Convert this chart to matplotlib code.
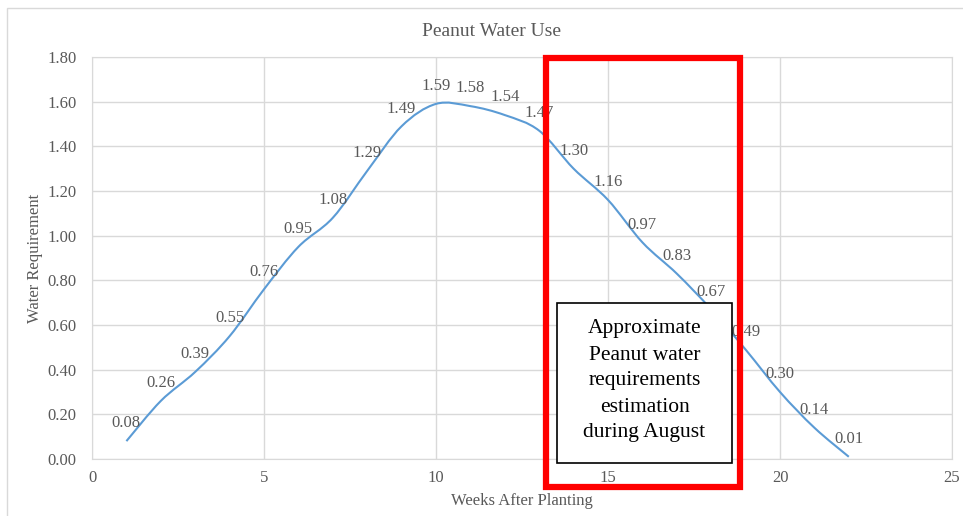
import matplotlib.pyplot as plt
import numpy as np
from matplotlib.path import Path
from matplotlib.patches import PathPatch, Rectangle

plt.rcParams['font.family'] = 'Liberation Serif'

weeks = np.arange(1, 23)
water = [0.08, 0.26, 0.39, 0.55, 0.76, 0.95, 1.08, 1.29, 1.49, 1.59, 1.58,
         1.54, 1.47, 1.30, 1.16, 0.97, 0.83, 0.67, 0.49, 0.30, 0.14, 0.01]
yticks = [0, 0.2, 0.4, 0.6, 0.8, 1.0, 1.2, 1.4, 1.6, 1.8]
xticks = [0, 5, 10, 15, 20, 25]
note = "Approximate\nPeanut water\nrequirements\nestimation\nduring August"

W, H = 963, 516
grey = '#595959'
grid = '#d9d9d9'

fig = plt.figure(figsize=(W / 100, H / 100), dpi=100)

def fx(px):
    return px / W

def fy(py):
    return 1 - py / H

# chart area border (Excel style)
fig.patches.append(Rectangle((fx(7), -0.2), 1.2, fy(8) + 0.2, transform=fig.transFigure,
                             fill=False, edgecolor=grid, lw=1.0))

ax = fig.add_axes([fx(92), fy(459), (952 - 92) / W, (459 - 57) / H])
ax.set_xlim(0, 25)
ax.set_ylim(0, 1.8)
ax.set_xticks(xticks)
ax.set_yticks(yticks)
ax.set_yticklabels([f'{v:.2f}' for v in yticks])
ax.tick_params(length=0, colors=grey, labelsize=12)
ax.tick_params(axis='y', pad=11)
ax.tick_params(axis='x', pad=8)
ax.grid(True, color=grid, lw=1.0)
ax.set_axisbelow(True)
for s in ax.spines.values():
    s.set_color(grid)

# smoothed line (bezier segments through the data points, like Excel's smooth line)
pts = np.column_stack([weeks, water]).astype(float)
verts = [pts[0]]
codes = [Path.MOVETO]
n = len(pts)
for i in range(n - 1):
    p0 = pts[i - 1] if i > 0 else pts[i]
    p1 = pts[i]
    p2 = pts[i + 1]
    p3 = pts[i + 2] if i + 2 < n else pts[i + 1]
    c1 = p1 + (p2 - p0) / 6
    c2 = p2 - (p3 - p1) / 6
    verts += [c1, c2, p2]
    codes += [Path.CURVE4] * 3
ax.add_patch(PathPatch(Path(verts, codes), facecolor='none', edgecolor='#5B9BD5', lw=1.5))

for x, y in zip(weeks, water):
    ax.annotate(f'{y:.2f}', (x, y), xytext=(0, 7), textcoords='offset points',
                ha='center', va='bottom', fontsize=12, color=grey)

ax.set_xlabel('Weeks After Planting', fontsize=12, color=grey, va='center')
ax.xaxis.set_label_coords(0.5, (459 - 501) / 402)
ax.set_ylabel('Water Requirement', fontsize=12, color=grey, va='center')
ax.yaxis.set_label_coords((35 - 92) / 860, 0.5)
fig.text(fx(491), fy(31), 'Peanut Water Use', ha='center', va='center', fontsize=14, color=grey)

# red highlight rectangle
fig.patches.append(Rectangle((fx(546), fy(487)), (740 - 546) / W, (487 - 58) / H,
                             transform=fig.transFigure, fill=False, edgecolor='#ff0000', lw=4.5,
                             zorder=5))
# note box
fig.patches.append(Rectangle((fx(557), fy(463)), (732 - 557) / W, (463 - 303) / H,
                             transform=fig.transFigure, facecolor='white', edgecolor='black', lw=1.2,
                             zorder=6))
fig.text(fx(644.5), fy(381), note, ha='center', va='center', fontsize=15.5,
         linespacing=1.5, color='black', zorder=7)

fig.savefig('out.png', dpi=100)
